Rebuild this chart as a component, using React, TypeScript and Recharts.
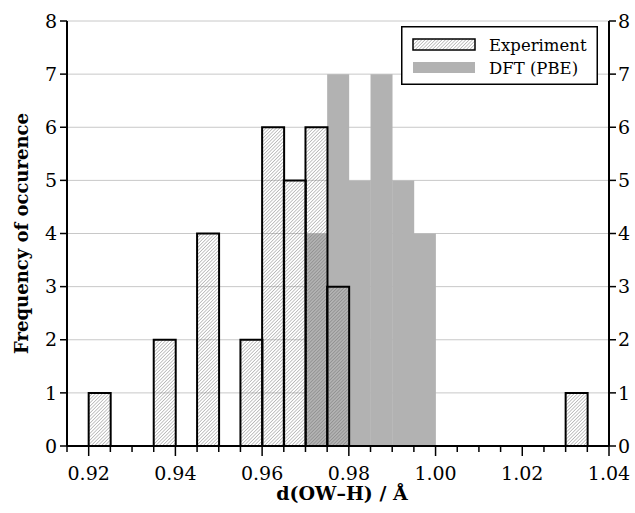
import React from "react";
import { ComposedChart, Bar, XAxis, YAxis, CartesianGrid, Legend, Label } from "recharts";

// histogram bins, 0.005 Å wide (lower edges)
const binStarts = [
  0.915, 0.92, 0.925, 0.93, 0.935, 0.94, 0.945, 0.95, 0.955, 0.96, 0.965, 0.97, 0.975,
  0.98, 0.985, 0.99, 0.995, 1.0, 1.005, 1.01, 1.015, 1.02, 1.025, 1.03, 1.035,
];
const experimentCounts = [0, 1, 0, 0, 2, 0, 4, 0, 2, 6, 5, 6, 3, 0, 0, 0, 0, 0, 0, 0, 0, 0, 0, 1, 0];
const dftCounts = [0, 0, 0, 0, 0, 0, 0, 0, 0, 0, 0, 4, 7, 5, 7, 5, 4, 0, 0, 0, 0, 0, 0, 0, 0];

const xTicks = [
  0.915, 0.92, 0.925, 0.93, 0.935, 0.94, 0.945, 0.95, 0.955, 0.96, 0.965, 0.97, 0.975,
  0.98, 0.985, 0.99, 0.995, 1.0, 1.005, 1.01, 1.015, 1.02, 1.025, 1.03, 1.035, 1.04,
];
const yTicks = [0, 1, 2, 3, 4, 5, 6, 7, 8];

const BIN = 0.005;
const data = binStarts.map((s, i) => ({
  x: Number((s + BIN / 2).toFixed(4)),
  experiment: experimentCounts[i],
  dft: dftCounts[i],
}));

const FONT = "'DejaVu Serif', serif";
const GRAY = "#b2b2b2";

function Hatch({ id }: { id: string }) {
  return (
    <pattern id={id} patternUnits="userSpaceOnUse" width={2.4} height={2.4} patternTransform="rotate(45)">
      <line x1={0} y1={0} x2={0} y2={2.4} stroke="#707070" strokeWidth={0.8} />
    </pattern>
  );
}

function XTick(props: any) {
  const { x, y, payload } = props;
  const v = payload.value as number;
  const major = Math.round(v * 1000) % 20 === 0;
  return (
    <g>
      <line x1={x} x2={x} y1={y} y2={y + (major ? 10 : 6)} stroke="#000" strokeWidth={1.5} />
      {major && (
        <text x={x} y={y + 34} textAnchor="middle" fontFamily={FONT} fontSize={19} fill="#000">
          {v.toFixed(2)}
        </text>
      )}
    </g>
  );
}

function LegendBox() {
  return (
    <svg width={197} height={59} style={{ display: "block" }}>
      <defs>
        <Hatch id="hatchLegend" />
      </defs>
      <rect x={0.75} y={0.75} width={195.5} height={57.5} fill="#fff" stroke="#000" strokeWidth={1.5} />
      <rect x={12} y={13} width={62} height={11} fill="url(#hatchLegend)" stroke="#000" strokeWidth={1.5} />
      <rect x={12} y={36} width={62} height={11} fill={GRAY} />
      <text x={88} y={25} fontFamily={FONT} fontSize={16.5} fill="#000">Experiment</text>
      <text x={88} y={48} fontFamily={FONT} fontSize={16.5} fill="#000">DFT (PBE)</text>
    </svg>
  );
}

export default function App() {
  const axisTick = { fontSize: 19, fill: "#000", fontFamily: FONT };
  return (
    <div style={{ position: "absolute", left: 0, top: 0, background: "#fff" }}>
      <ComposedChart
        width={635}
        height={513}
        data={data}
        barCategoryGap={0}
        barGap={0}
        margin={{ top: 21, right: 0, bottom: 0, left: 0 }}
      >
        <defs>
          <Hatch id="hatchBar" />
        </defs>
        <CartesianGrid horizontal vertical={false} stroke="#c8c8c8" xAxisId="main" yAxisId="left" />
        <XAxis
          xAxisId="main"
          type="number"
          dataKey="x"
          domain={[0.915, 1.04]}
          ticks={xTicks}
          interval={0}
          allowDataOverflow
          tick={<XTick />}
          tickLine={false}
          tickSize={0}
          tickMargin={0}
          axisLine={{ stroke: "#000", strokeWidth: 2 }}
          height={67}
        >
          <Label
            content={(p: any) => {
              const vb = p.viewBox;
              return (
                <text
                  x={vb.x + vb.width / 2 + 4}
                  y={vb.y + 54}
                  textAnchor="middle"
                  fontFamily={FONT}
                  fontWeight="bold"
                  fontSize={19}
                  fill="#000"
                >
                  d(OW–H) / Å
                </text>
              );
            }}
          />
        </XAxis>
        <XAxis xAxisId="hid" type="number" dataKey="x" domain={[0.915, 1.04]} allowDataOverflow hide height={0} />
        <YAxis
          yAxisId="left"
          domain={[0, 8]}
          ticks={yTicks}
          interval={0}
          width={67}
          tickSize={7}
          tickMargin={3}
          tick={axisTick}
          tickLine={{ stroke: "#000", strokeWidth: 1.5 }}
          axisLine={{ stroke: "#000", strokeWidth: 2 }}
        >
          <Label
            content={(p: any) => {
              const vb = p.viewBox;
              const cx = 28;
              const cy = vb.y + vb.height / 2;
              return (
                <text
                  x={cx}
                  y={cy}
                  transform={`rotate(-90 ${cx} ${cy})`}
                  textAnchor="middle"
                  fontFamily={FONT}
                  fontWeight="bold"
                  fontSize={18}
                  fill="#000"
                >
                  Frequency of occurence
                </text>
              );
            }}
          />
        </YAxis>
        <YAxis
          yAxisId="right"
          orientation="right"
          domain={[0, 8]}
          ticks={yTicks}
          interval={0}
          width={26}
          tickSize={7}
          tickMargin={2}
          tick={axisTick}
          tickLine={{ stroke: "#000", strokeWidth: 1.5 }}
          axisLine={{ stroke: "#000", strokeWidth: 2 }}
        />
        <Bar
          xAxisId="hid"
          yAxisId="right"
          dataKey="dft"
          name="DFT (PBE)"
          fill={GRAY}
          isAnimationActive={false}
        />
        <Bar
          xAxisId="main"
          yAxisId="left"
          dataKey="experiment"
          name="Experiment"
          fill="url(#hatchBar)"
          stroke="#000"
          strokeWidth={2}
          isAnimationActive={false}
        />
        <Legend
          layout="vertical"
          align="center"
          verticalAlign="middle"
          content={() => <LegendBox />}
          wrapperStyle={{ position: "absolute", top: 26, left: 401, width: 197, height: 59 }}
        />
      </ComposedChart>
    </div>
  );
}
